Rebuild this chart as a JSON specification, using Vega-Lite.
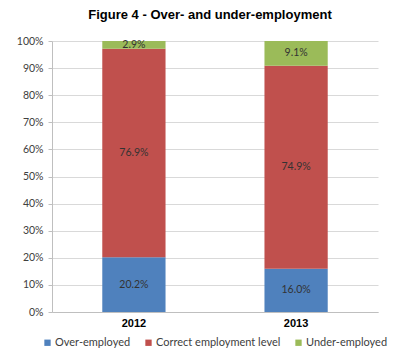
{
  "$schema": "https://vega.github.io/schema/vega-lite/v6.json",
  "autosize": {"type": "none"},
  "width": 326,
  "height": 271,
  "padding": {"left": 52, "top": 41, "right": 22, "bottom": 43},
  "background": "white",
  "config": {"view": {"stroke": null}},
  "title": {
    "text": "Figure 4 - Over- and under-employment",
    "fontSize": 13,
    "fontWeight": "bold",
    "font": "Liberation Sans Narrow, Liberation Sans, Arial",
    "color": "#000000",
    "anchor": "middle",
    "dx": -5,
    "offset": 14
  },
  "data": {
    "values": [
      {"year": "2012", "category": "Over-employed", "order": 1, "value": 20.2},
      {"year": "2012", "category": "Correct employment level", "order": 2, "value": 76.9},
      {"year": "2012", "category": "Under-employed", "order": 3, "value": 2.9},
      {"year": "2013", "category": "Over-employed", "order": 1, "value": 16.0},
      {"year": "2013", "category": "Correct employment level", "order": 2, "value": 74.9},
      {"year": "2013", "category": "Under-employed", "order": 3, "value": 9.1}
    ]
  },
  "transform": [
    {"stack": "value", "groupby": ["year"], "sort": [{"field": "order", "order": "ascending"}], "as": ["v0", "v1"]},
    {"calculate": "(datum.v0 + datum.v1) / 2", "as": "vmid"}
  ],
  "encoding": {
    "x": {
      "field": "year",
      "type": "nominal",
      "scale": {"paddingInner": 0.61, "paddingOuter": 0.31},
      "axis": {
        "title": null,
        "labelAngle": 0,
        "labelFontWeight": "bold",
        "labelFontSize": 11,
        "labelFont": "Liberation Sans Narrow, Liberation Sans, Arial",
        "labelColor": "#000000",
        "labelPadding": 5,
        "domainColor": "#BFBFBF",
        "ticks": false,
        "grid": false
      }
    }
  },
  "layer": [
    {
      "mark": {"type": "bar"},
      "encoding": {
        "y": {
          "field": "v0",
          "type": "quantitative",
          "scale": {"domain": [0, 100], "nice": false},
          "axis": {
            "title": null,
            "values": [0, 10, 20, 30, 40, 50, 60, 70, 80, 90, 100],
            "labelExpr": "datum.value + '%'",
            "labelOverlap": false,
            "labelFont": "Lato",
            "labelFontSize": 10.5,
            "labelColor": "#404040",
            "labelPadding": 5,
            "tickSize": 4,
            "tickColor": "#BFBFBF",
            "domainColor": "#BFBFBF",
            "gridColor": "#D9D9D9",
            "grid": true
          }
        },
        "y2": {"field": "v1"},
        "color": {
          "field": "category",
          "type": "nominal",
          "sort": ["Over-employed", "Correct employment level", "Under-employed"],
          "scale": {
            "domain": ["Over-employed", "Correct employment level", "Under-employed"],
            "range": ["#4F81BD", "#C0504D", "#9BBB59"]
          },
          "legend": {
            "title": null,
            "orient": "none",
            "direction": "horizontal",
            "legendX": -10,
            "legendY": 296,
            "symbolType": "square",
            "symbolSize": 40,
            "symbolStrokeWidth": 0,
            "labelFont": "Lato",
            "labelFontSize": 11,
            "labelColor": "#404040",
            "columnPadding": 12,
            "labelOffset": 2
          }
        }
      }
    },
    {
      "mark": {
        "type": "text",
        "font": "Lato",
        "fontSize": 10.5,
        "color": "#333333",
        "text": {"expr": "format(datum.value, '.1f') + '%'"}
      },
      "encoding": {
        "y": {
          "field": "vmid",
          "type": "quantitative",
          "scale": {"domain": [0, 100], "nice": false},
          "axis": {
            "title": null,
            "values": [0, 10, 20, 30, 40, 50, 60, 70, 80, 90, 100],
            "labelExpr": "datum.value + '%'",
            "labelOverlap": false,
            "labelFont": "Lato",
            "labelFontSize": 10.5,
            "labelColor": "#404040",
            "labelPadding": 5,
            "tickSize": 4,
            "tickColor": "#BFBFBF",
            "domainColor": "#BFBFBF",
            "gridColor": "#D9D9D9",
            "grid": true
          }
        }
      }
    }
  ]
}
